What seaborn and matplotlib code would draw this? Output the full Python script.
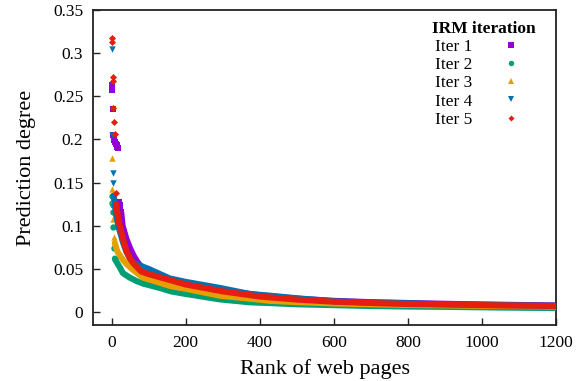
import matplotlib
matplotlib.use("Agg")
import matplotlib.pyplot as plt
from matplotlib.lines import Line2D
import seaborn as sns
import pandas as pd

# ---------------- data ----------------
series_names = ["Iter 1", "Iter 2", "Iter 3", "Iter 4", "Iter 5"]

# Iter 1
iter1_head_rank = [1, 2, 3, 4, 6, 8, 10, 12, 14, 16, 18, 20, 22, 24, 26]
iter1_head_val = [0.263, 0.257, 0.235, 0.205, 0.202, 0.199, 0.197, 0.195, 0.193,
                  0.191, 0.190, 0.128, 0.124, 0.120, 0.116]
iter1_tail_rank = [26, 30, 40, 50, 60, 70, 85, 100, 150, 200, 300, 400, 500, 600,
                   700, 800, 900, 1000, 1100, 1200]
iter1_tail_val = [0.116, 0.100, 0.085, 0.074, 0.065, 0.058, 0.050, 0.046, 0.039,
                  0.034, 0.025, 0.0195, 0.0155, 0.013, 0.0115, 0.0105, 0.0096,
                  0.0088, 0.0082, 0.0077]

# Iter 2
iter2_head_rank = [1, 2, 3, 4, 5, 7, 9]
iter2_head_val = [0.135, 0.126, 0.124, 0.116, 0.099, 0.074, 0.062]
iter2_tail_rank = [9, 11, 15, 22, 31, 49, 67, 85, 130, 160, 200, 292, 373, 427,
                   500, 600, 700, 800, 900, 1000, 1100, 1200]
iter2_tail_val = [0.062, 0.060, 0.057, 0.052, 0.045, 0.040, 0.036, 0.033, 0.028,
                  0.024, 0.021, 0.0147, 0.0113, 0.0104, 0.009, 0.008, 0.007,
                  0.0064, 0.006, 0.0055, 0.005, 0.0046]

# Iter 3
iter3_head_rank = [1, 2, 3, 4, 6]
iter3_head_val = [0.178, 0.143, 0.130, 0.108, 0.087]
iter3_tail_rank = [9, 13, 16, 22, 30, 40, 55, 67, 85, 130, 160, 200, 292, 373,
                   427, 500, 600, 700, 800, 900, 1000, 1100, 1200]
iter3_tail_val = [0.080, 0.074, 0.070, 0.066, 0.061, 0.056, 0.050, 0.046, 0.040,
                  0.034, 0.030, 0.027, 0.019, 0.0155, 0.013, 0.0115, 0.010,
                  0.009, 0.0083, 0.0077, 0.0072, 0.0068, 0.0064]

# Iter 4
iter4_head_rank = [1, 2, 3, 4]
iter4_head_val = [0.305, 0.205, 0.161, 0.149]
iter4_tail_rank = [6, 9, 13, 17, 20, 25, 30, 40, 50, 60, 70, 85, 100, 157, 200,
                   292, 373, 427, 500, 600, 700, 778, 900, 1000, 1100, 1200]
iter4_tail_val = [0.135, 0.125, 0.112, 0.103, 0.097, 0.090, 0.082, 0.070, 0.062,
                  0.057, 0.055, 0.0525, 0.050, 0.039, 0.035, 0.028, 0.021, 0.019,
                  0.016, 0.0125, 0.011, 0.0104, 0.009, 0.0085, 0.0078, 0.0072]

# Iter 5
iter5_head_rank = [1, 2, 3, 4, 5, 7, 9, 11]
iter5_head_val = [0.317, 0.313, 0.272, 0.268, 0.236, 0.220, 0.206, 0.138]
iter5_tail_rank = [13, 17, 20, 25, 30, 40, 50, 60, 80, 100, 150, 200, 300, 400,
                   500, 600, 700, 800, 900, 1000, 1100, 1200]
iter5_tail_val = [0.125, 0.110, 0.104, 0.095, 0.086, 0.071, 0.062, 0.056, 0.047,
                  0.044, 0.038, 0.032, 0.024, 0.018, 0.0145, 0.012, 0.0105,
                  0.0093, 0.0088, 0.008, 0.0075, 0.007]

x_ticks = [0, 200, 400, 600, 800, 1000, 1200]
y_ticks = [0, 0.05, 0.1, 0.15, 0.2, 0.25, 0.3, 0.35]
y_tick_labels = ["0", "0.05", "0.1", "0.15", "0.2", "0.25", "0.3", "0.35"]

# ---------------- styling ----------------
sns.set_theme(style="ticks")
plt.rcParams["font.family"] = ["Liberation Serif", "DejaVu Serif"]
plt.rcParams["axes.linewidth"] = 1.3
plt.rcParams["text.color"] = "black"
plt.rcParams["axes.labelcolor"] = "black"

colors = ["#9400d3", "#009e73", "#e69f00", "#0072b2", "#e51e10"]
markers = ["s", "o", "^", "v", "D"]
msizes = [5.0, 4.6, 4.6, 4.6, 3.6]

heads = [(iter1_head_rank, iter1_head_val), (iter2_head_rank, iter2_head_val),
         (iter3_head_rank, iter3_head_val), (iter4_head_rank, iter4_head_val),
         (iter5_head_rank, iter5_head_val)]
tails = [(iter1_tail_rank, iter1_tail_val), (iter2_tail_rank, iter2_tail_val),
         (iter3_tail_rank, iter3_tail_val), (iter4_tail_rank, iter4_tail_val),
         (iter5_tail_rank, iter5_tail_val)]

fig = plt.figure(figsize=(5.78, 3.81), dpi=100)
ax = fig.add_axes([93 / 578, 1 - 325 / 381, (556 - 93) / 578, (325 - 10) / 381])

for i, name in enumerate(series_names):
    hr, hv = heads[i]
    tr, tv = tails[i]
    tdf = pd.DataFrame({"rank": tr, "value": tv})
    hdf = pd.DataFrame({"rank": hr, "value": hv})
    sns.lineplot(data=tdf, x="rank", y="value", ax=ax, color=colors[i],
                 linewidth=4.4, solid_capstyle="round", zorder=2 + i, legend=False)
    sns.scatterplot(data=hdf, x="rank", y="value", ax=ax, color=colors[i],
                    marker=markers[i], s=msizes[i] ** 2, linewidth=0,
                    zorder=2 + i, legend=False)

ax.set_xlim(-50, 1200)
ax.set_ylim(-0.015, 0.35)
ax.set_xticks(x_ticks)
ax.set_yticks(y_ticks)
ax.set_yticklabels(y_tick_labels)
ax.tick_params(direction="in", length=5, width=1.0, labelsize=12.5, colors="#222222",
               labelcolor="black", pad=7)
for sp in ax.spines.values():
    sp.set_color("#222222")
    sp.set_visible(True)

ax.set_xlabel("Rank of web pages", fontsize=16, labelpad=6, color="black")
ax.set_ylabel("Prediction degree", fontsize=16, labelpad=12, color="black")

handles = [Line2D([], [], linestyle="none", marker=markers[i], color=colors[i],
                  markersize=msizes[i] * 0.85, markeredgewidth=0)
           for i in range(len(series_names))]
leg = ax.legend(handles, series_names, title="IRM iteration", loc="upper right",
                bbox_to_anchor=(0.982, 1.005), frameon=False, markerfirst=False,
                fontsize=12.5, handlelength=2.5, handletextpad=0.95,
                labelspacing=0.12, borderpad=0.2,
                title_fontproperties={"weight": "bold", "size": 12.5,
                                      "family": ["Liberation Serif"]})
for t in leg.get_texts():
    t.set_color("black")
leg.get_title().set_color("black")

fig.savefig("out.png", dpi=100)
